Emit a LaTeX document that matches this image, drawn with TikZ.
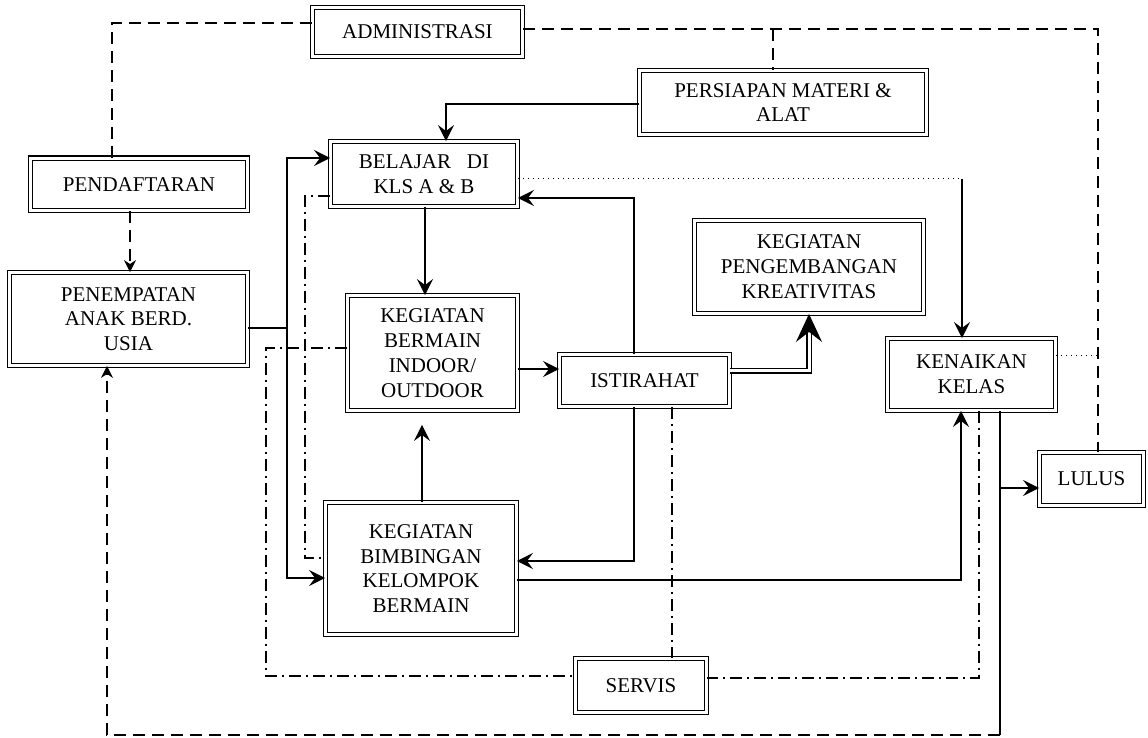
\documentclass[tikz,border=0pt]{standalone}
\usepackage{fontspec}
\setmainfont{Liberation Serif}
\usetikzlibrary{arrows.meta}

\begin{document}
\begin{tikzpicture}[x=0.5pt, y=-0.5pt,
	box/.style={draw, double, double distance=1.5pt, line width=0.55pt, align=center, inner sep=2pt, font=\fontsize{10.5}{12.4}\selectfont},
	line/.style={line width=0.75pt},
	arr/.style={line width=0.75pt, -{Stealth[length=8pt, width=8pt, inset=3pt]}},
	bigarr/.style={line width=0.6pt, double, double distance=1.5pt, -{Stealth[length=14pt, width=13pt, inset=5pt]}},
	dashline/.style={line width=0.6pt, dash pattern=on 6pt off 3.5pt},
	dasharr/.style={dashline, -{Stealth[length=6pt, width=6pt, inset=2pt]}},
	dashdot/.style={line width=0.6pt, dash pattern=on 6pt off 2.5pt on 1pt off 2.5pt},
	dotline/.style={line width=0.5pt, dotted}]
	\useasboundingbox (0,0) rectangle (1148,738);
	% boxes
	\node[box, minimum width=104.9pt, minimum height=24.4pt] (administrasi) at (417.5,32) {ADMINISTRASI};
	\node[box, minimum width=143.4pt, minimum height=31.9pt] (persiapan) at (783,102.5) {PERSIAPAN MATERI \&\\ALAT};
	\node[box, minimum width=108.4pt, minimum height=26.4pt] (pendaftaran) at (139,184.5) {PENDAFTARAN};
	\node[box, minimum width=118.9pt, minimum height=46.4pt] (penempatan) at (128.5,319) {PENEMPATAN\\ANAK BERD.\\USIA};
	\node[box, minimum width=93.4pt, minimum height=32.4pt] (belajar) at (424,174) {BELAJAR~~~DI\\KLS A \& B};
	\node[box, minimum width=84.9pt, minimum height=57.4pt] (bermain) at (432.5,353) {KEGIATAN\\BERMAIN\\INDOOR/\\OUTDOOR};
	\node[box, minimum width=84.9pt, minimum height=25.9pt] (istirahat) at (644.5,380.5) {ISTIRAHAT};
	\node[box, minimum width=114.4pt, minimum height=46.4pt] (pengembangan) at (809,267) {KEGIATAN\\PENGEMBANGAN\\KREATIVITAS};
	\node[box, minimum width=83.9pt, minimum height=35.9pt] (kenaikan) at (971.5,374.5) {KENAIKAN\\KELAS};
	\node[box, minimum width=51.9pt, minimum height=26.4pt] (lulus) at (1091.5,479) {LULUS};
	\node[box, minimum width=95.4pt, minimum height=65.9pt] (bimbingan) at (421,568.5) {KEGIATAN\\BIMBINGAN\\KELOMPOK\\BERMAIN};
	\node[box, minimum width=65.4pt, minimum height=26.9pt] (servis) at (641,685.5) {SERVIS};
	% bend points
	\coordinate (t1) at (112,23);
	\coordinate (t2) at (1098,29);
	\coordinate (t3) at (773,29);
	\coordinate (j1) at (287,328);
	\coordinate (b1) at (287,158);
	\coordinate (b2) at (287,578);
	\coordinate (j2) at (446,104);
	\coordinate (j3) at (130,240);
	\coordinate (j4) at (425,250);
	\coordinate (j5) at (422,460);
	\coordinate (j6) at (540,369);
	\coordinate (j7) at (634,198);
	\coordinate (j8) at (809,371);
	\coordinate (j9) at (634,561);
	\coordinate (j10) at (672,600);
	\coordinate (j11) at (961,580);
	\coordinate (j12) at (979,678);
	\coordinate (j13) at (1000,488);
	\coordinate (j14) at (1000,735);
	\coordinate (j15) at (107,500);
	\coordinate (j16) at (305,196);
	\coordinate (j17) at (305,558);
	\coordinate (j18) at (266,348);
	\coordinate (j19) at (266,676);
	\coordinate (j20) at (962,179);
	\coordinate (j21) at (1098,356);
	% dashed administration lines
	\draw[dashline] (pendaftaran.north -| t1) |- (administrasi.west |- t1);
	\draw[dashline] (administrasi.east |- t2) -| (lulus.north -| t2);
	\draw[dashline] (t3) -- (persiapan.north -| t3);
	\draw[dasharr] (pendaftaran.south -| j3) -- (penempatan.north -| j3);
	% solid flow
	\draw[arr] (persiapan.west |- j2) -| (belajar.north -| j2);
	\draw[line] (penempatan.east |- j1) -- (j1);
	\draw[arr] (j1) |- (belajar.west |- b1);
	\draw[arr] (j1) |- (bimbingan.west |- b2);
	\draw[arr] (belajar.south -| j4) -- (bermain.north -| j4);
	\draw[arr, shorten >=7pt] (bimbingan.north -| j5) -- (bermain.south -| j5);
	\draw[arr] (bermain.east |- j6) -- (istirahat.west |- j6);
	\draw[arr] (istirahat.north -| j7) |- (belajar.east |- j7);
	\draw[bigarr] (istirahat.east |- j8) -| (pengembangan.south);
	\draw[arr] (istirahat.south -| j9) |- (bimbingan.east |- j9);
	\draw[arr] (bimbingan.east |- j11) -| (kenaikan.south -| j11);
	\draw[line] (kenaikan.south -| j13) -- (j14);
	\draw[arr] (j13) -- (lulus.west |- j13);
	\draw[dasharr] (j14) -| (penempatan.south -| j15);
	\draw[dotline] (belajar.east |- j20) -- (j20);
	\draw[arr] (j20) -- (kenaikan.north -| j20);
	\draw[dotline] (kenaikan.east |- j21) -- (j21);
	% servis lines
	\draw[dashdot] (istirahat.south -| j10) -- (servis.north -| j10);
	\draw[dashdot] (kenaikan.south -| j12) |- (servis.east |- j12);
	\draw[dashdot] (belajar.west |- j16) -- (j16) -- (j17) -- (bimbingan.west |- j17);
	\draw[dashdot] (bermain.west |- j18) -- (j18) -- (j19) -- (servis.west |- j19);
\end{tikzpicture}
\end{document}
